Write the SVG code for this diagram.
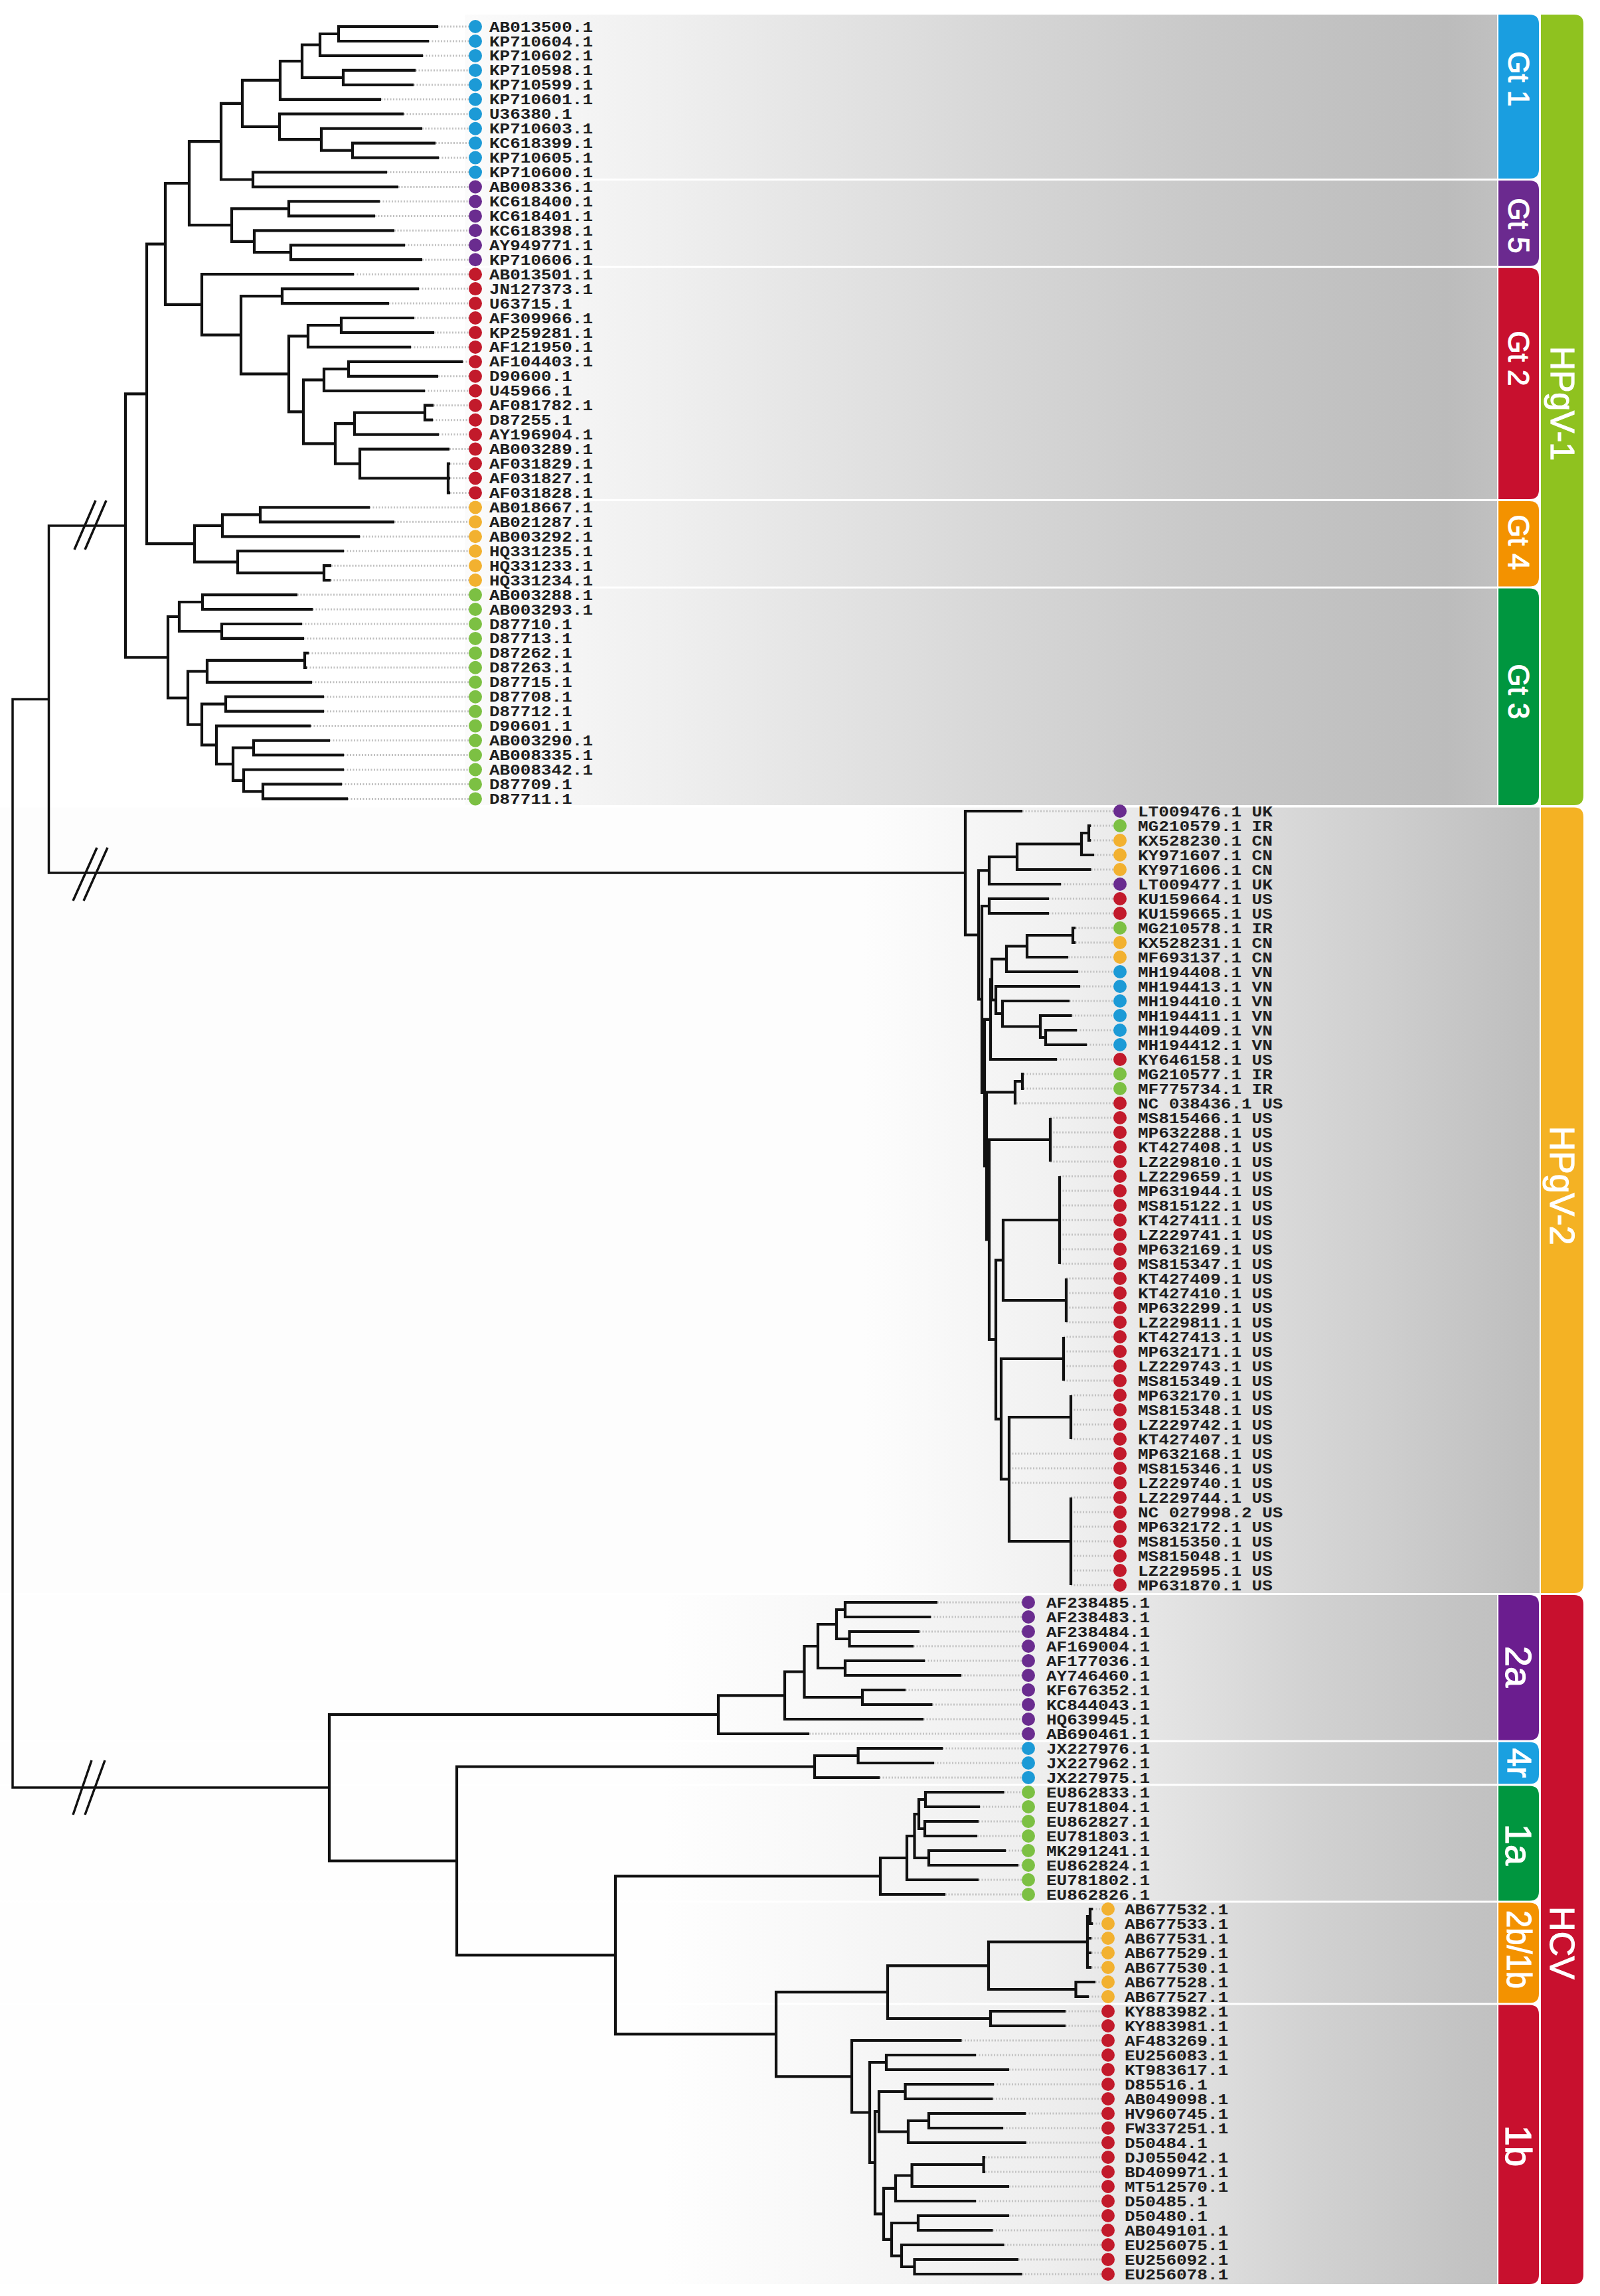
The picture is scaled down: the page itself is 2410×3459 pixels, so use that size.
<svg xmlns="http://www.w3.org/2000/svg" width="2410" height="3459" viewBox="0 0 2410 3459">
<style>
.br{fill:none;stroke:#111;stroke-width:4.2;stroke-linejoin:miter}
.bk{fill:none;stroke:#111;stroke-width:3.5}
.dt{fill:none;stroke:#c2c2c2;stroke-width:3;stroke-dasharray:2 2.5}
.lb{font-family:"Liberation Mono","DejaVu Sans Mono",monospace;font-size:22px;font-weight:bold;fill:#1e1e1e}
.bt{font-family:"Liberation Sans",Arial,sans-serif;fill:#ffffff;stroke:#ffffff;stroke-width:1.2;text-anchor:middle;dominant-baseline:central}
.cb{fill:#1c9ad6}.cp{fill:#6a2c8f}.cr{fill:#c21a2b}.cy{fill:#f2b130}.cg{fill:#7cc043}
</style>
<defs>
<linearGradient id="g1" gradientUnits="userSpaceOnUse" x1="700" y1="0" x2="2256" y2="0">
<stop offset="0" stop-color="#fbfbfb"/><stop offset="0.2" stop-color="#efefef"/><stop offset="0.5" stop-color="#d8d8d8"/><stop offset="0.72" stop-color="#c8c8c8"/><stop offset="0.95" stop-color="#bcbcbc"/><stop offset="1" stop-color="#c0c0c0"/>
</linearGradient>
<linearGradient id="g2" gradientUnits="userSpaceOnUse" x1="1300" y1="0" x2="2319" y2="0">
<stop offset="0" stop-color="#fdfdfd"/><stop offset="0.3" stop-color="#f0f0f0"/><stop offset="0.42" stop-color="#e8e8e8"/><stop offset="0.63" stop-color="#d8d8d8"/><stop offset="0.8" stop-color="#cccccc"/><stop offset="1" stop-color="#bdbdbd"/>
</linearGradient>
<linearGradient id="g3" gradientUnits="userSpaceOnUse" x1="1000" y1="0" x2="2256" y2="0">
<stop offset="0" stop-color="#fefefe"/><stop offset="0.16" stop-color="#f9f9f9"/><stop offset="0.46" stop-color="#eeeeee"/><stop offset="0.59" stop-color="#e5e5e5"/><stop offset="0.77" stop-color="#d2d2d2"/><stop offset="0.96" stop-color="#c3c3c3"/><stop offset="1" stop-color="#c1c1c1"/>
</linearGradient>
</defs>
<rect width="2410" height="3459" fill="#ffffff"/>
<g id="bands">
<rect x="700" y="22" width="1555" height="247" fill="url(#g1)"/>
<rect x="700" y="272" width="1555" height="128.7" fill="url(#g1)"/>
<rect x="700" y="403.7" width="1555" height="348.2" fill="url(#g1)"/>
<rect x="700" y="754.9" width="1555" height="128.7" fill="url(#g1)"/>
<rect x="700" y="886.6" width="1555" height="326.4" fill="url(#g1)"/>
<rect x="0" y="1216.5" width="2319" height="1183.5" fill="url(#g2)"/>
<rect x="0" y="2403" width="2255" height="218.5" fill="url(#g3)"/>
<rect x="0" y="2624.5" width="2255" height="63" fill="url(#g3)"/>
<rect x="0" y="2690.5" width="2255" height="173" fill="url(#g3)"/>
<rect x="0" y="2866.5" width="2255" height="151" fill="url(#g3)"/>
<rect x="0" y="3020.5" width="2255" height="420.5" fill="url(#g3)"/>
</g>
<g id="clade-bars">
<g id="bar-gt1"><path fill="#1a9ee0" d="M2257 22H2304Q2318 22 2318 36V255Q2318 269 2304 269H2257Z"/><text class="bt" font-size="44" transform="translate(2287.5 119) rotate(90)">Gt 1</text></g>
<g id="bar-gt5"><path fill="#6b2a8f" d="M2257 272H2304Q2318 272 2318 286V386.7Q2318 400.7 2304 400.7H2257Z"/><text class="bt" font-size="44" transform="translate(2287.5 340) rotate(90)">Gt 5</text></g>
<g id="bar-gt2"><path fill="#c8102e" d="M2257 403.7H2304Q2318 403.7 2318 417.7V737.9Q2318 751.9 2304 751.9H2257Z"/><text class="bt" font-size="44" transform="translate(2287.5 540) rotate(90)">Gt 2</text></g>
<g id="bar-gt4"><path fill="#f39200" d="M2257 754.9H2304Q2318 754.9 2318 768.9V869.6Q2318 883.6 2304 883.6H2257Z"/><text class="bt" font-size="44" transform="translate(2287.5 817) rotate(90)">Gt 4</text></g>
<g id="bar-gt3"><path fill="#00963f" d="M2257 886.6H2304Q2318 886.6 2318 900.6V1199Q2318 1213 2304 1213H2257Z"/><text class="bt" font-size="44" transform="translate(2287.5 1042) rotate(90)">Gt 3</text></g>
<g id="bar-hpgv1"><path fill="#8fc21f" d="M2321 22H2371Q2385 22 2385 36V1199Q2385 1213 2371 1213H2321Z"/><text class="bt" font-size="50" transform="translate(2353 608) rotate(90)">HPgV-1</text></g>
<g id="bar-hpgv2"><path fill="#f4b224" d="M2321 1216.5H2371Q2385 1216.5 2385 1230.5V2386Q2385 2400 2371 2400H2321Z"/><text class="bt" font-size="52" transform="translate(2353 1786) rotate(90)">HPgV-2</text></g>
<g id="bar-hcv"><path fill="#c8102e" d="M2321 2403H2371Q2385 2403 2385 2417V3427Q2385 3441 2371 3441H2321Z"/><text class="bt" font-size="52" transform="translate(2353 2927) rotate(90)">HCV</text></g>
<g id="bar-2a"><path fill="#6b1d8f" d="M2257 2403H2304Q2318 2403 2318 2417V2607.5Q2318 2621.5 2304 2621.5H2257Z"/><text class="bt" font-size="56" transform="translate(2287.5 2511) rotate(90)">2a</text></g>
<g id="bar-4r"><path fill="#1aa0e0" d="M2257 2624.5H2304Q2318 2624.5 2318 2638.5V2673.5Q2318 2687.5 2304 2687.5H2257Z"/><text class="bt" font-size="50" transform="translate(2287.5 2656) rotate(90)">4r</text></g>
<g id="bar-1a"><path fill="#00963f" d="M2257 2690.5H2304Q2318 2690.5 2318 2704.5V2849.5Q2318 2863.5 2304 2863.5H2257Z"/><text class="bt" font-size="56" transform="translate(2287.5 2779) rotate(90)">1a</text></g>
<g id="bar-2b1b"><path fill="#f39200" d="M2257 2866.5H2304Q2318 2866.5 2318 2880.5V3003.5Q2318 3017.5 2304 3017.5H2257Z"/><text class="bt" font-size="52" textLength="118" lengthAdjust="spacingAndGlyphs" transform="translate(2287.5 2937) rotate(90)">2b/1b</text></g>
<g id="bar-1b"><path fill="#c8102e" d="M2257 3020.5H2304Q2318 3020.5 2318 3034.5V3427Q2318 3441 2304 3441H2257Z"/><text class="bt" font-size="56" transform="translate(2287.5 3233) rotate(90)">1b</text></g>
</g>
<g id="connectors">
<path class="dt" d="M660 40H706M646 62H706M637 83.9H706M626 105.9H706M623 127.8H706M574 149.8H706M608 171.7H706M636 193.7H706M656 215.6H706M661 237.6H706M583 259.5H706M600 281.5H706M572 303.4H706M565 325.4H706M594 347.3H706M610 369.3H706M636 391.2H706M533 413.2H706M631 435.1H706M586 457.1H706M624 479H706M654 501H706M619 522.9H706M697 544.9H706M660 566.8H706M640 588.8H706M653 610.7H706M652 632.7H706M661 654.6H706M677 676.6H706M678 698.5H706M678 720.5H706M678 742.4H706M557 764.4H706M594 786.3H706M542 808.3H706M518 830.2H706M499 852.2H706M498 874.1H706M448 896.1H706M471 918H706M455 940H706M458 961.9H706M465 983.9H706M462 1005.8H706M470 1027.8H706M488 1049.7H706M488 1071.7H706M468 1093.6H706M497 1115.6H706M518 1137.5H706M518 1159.5H706M515 1181.4H706M524 1203.4H706"/>
<path class="dt" d="M1540 1222H1677M1643 1244H1677M1643 1266H1677M1648 1288H1677M1643.5 1310H1677M1598 1332H1677M1580 1354H1677M1580 1376H1677M1620 1398H1677M1620 1420H1677M1609 1442H1677M1624 1464H1677M1627 1486H1677M1611 1508H1677M1614.6 1530H1677M1622 1552H1677M1637 1574H1677M1592 1596H1677M1542 1618H1677M1542 1640H1677M1531 1662H1677M1582 1684H1677M1582 1706H1677M1582 1728H1677M1582 1750H1677M1596 1772H1677M1596 1794H1677M1596 1816H1677M1596 1838H1677M1596 1860H1677M1596 1882H1677M1596 1904H1677M1606 1926H1677M1606 1948H1677M1606 1970H1677M1606 1992H1677M1602 2014H1677M1602 2036H1677M1602 2058H1677M1602 2080H1677M1613 2102H1677M1613 2124H1677M1613 2146H1677M1613 2168H1677M1520 2190H1677M1520 2212H1677M1520 2234H1677M1613 2256H1677M1613 2278H1677M1613 2300H1677M1613 2322H1677M1613 2344H1677M1613 2366H1677M1613 2388H1677"/>
<path class="dt" d="M1412 2414H1539M1402 2436H1539M1385 2458H1539M1376 2480H1539M1393 2502H1539M1448 2524H1539M1364 2546H1539M1404.5 2568H1539M1391 2590H1539M1219 2612H1539M1420 2634H1539M1407 2656H1539M1325 2678H1539M1512.5 2700H1539M1476 2722H1539M1474 2744H1539M1472 2766H1539M1515 2788H1539M1534 2810H1539M1474 2832H1539M1424 2854H1539M1646 2876H1659M1646 2898H1659M1644 2920H1659M1644 2942H1659M1644 2964H1659M1650 2986H1659M1640 3008H1659M1605 3030H1659M1605 3052H1659M1448.5 3074H1659M1470 3096H1659M1520 3118H1659M1497 3140H1659M1495.5 3162H1659M1545 3184H1659M1511 3206H1659M1545.7 3228H1659M1484 3250H1659M1484 3272H1659M1520 3294H1659M1470 3316H1659M1520 3338H1659M1495.5 3360H1659M1512.5 3382H1659M1534 3404H1659M1539.5 3426H1659"/>
<path class="br" d="M660 40H510V62H646M510 51H482V83.9H637M626 105.9H517V127.8H623M482 67.5H455V116.8H517M455 92.1H422V149.8H574M656 215.6H531V237.6H661M636 193.7H484V226.6H531M608 171.7H421V210.1H484M422 120.9H365V190.9H421M583 259.5H381V281.5H600M365 155.9H333V270.5H381M572 303.4H435V325.4H565M610 369.3H438V391.2H636M594 347.3H383V380.2H438M435 314.4H349V363.8H383M333 213.2H285V339.1H349M631 435.1H425V457.1H586M624 479H514V501H654M514 490H464V522.9H619M697 544.9H525V566.8H660M525 555.8H488V588.8H640M653 610.7H640V632.7H652M640 621.7H534V654.6H661M678 698.5H675V742.4H678M675 720.5H678M677 676.6H542V720.5H675M534 638.1H505V698.6H542M488 572.3H457V668.3H505M464 506.4H435V620.3H457M425 446.1H363V563.4H435M533 413.2H304V504.7H363M285 276.2H249V458.9H304M557 764.4H392V786.3H594M392 775.3H335V808.3H542M499 852.2H488V874.1H498M518 830.2H358V863.1H488M335 791.8H293V846.7H358M249 367.6H221V819.2H293M448 896.1H305V918H471M455 940H334V961.9H458M305 907H270V951H334M465 983.9H459V1005.8H462M459 994.8H312V1027.8H470M488 1049.7H340V1071.7H488M497 1115.6H382V1137.5H518M515 1181.4H396V1203.4H524M518 1159.5H367V1192.4H396M382 1126.5H351V1175.9H367M468 1093.6H326V1151.2H351M340 1060.7H304V1122.4H326M312 1011.3H283V1091.6H304M270 929H253V1051.5H283M221 593.4H189V990.3H253"/>
<path class="br" d="M1540 1222H1454V1408.5H1474M1490 1311.4H1474V1505.5H1479M1532 1290.8H1490V1332H1598M1629 1271.5H1532V1310H1643.5M1640 1255H1629V1288H1648M1643 1244H1640V1266H1643M1490 1365H1479V1646H1483M1580 1354H1490V1376H1580M1492 1535.8H1483V1756.5H1486M1494 1475.6H1492V1596H1592M1516 1444.8H1494V1506.5H1500M1547 1425.5H1516V1464H1624M1616 1409H1547V1442H1609M1620 1398H1616V1420H1620M1627 1486H1500V1527H1510M1611 1508H1510V1546.5H1567M1614.6 1530H1567V1563H1575M1622 1552H1575V1574H1637M1529 1645.5H1486V1867.5H1490M1540 1629H1529V1662H1531M1542 1618H1540V1640H1542M1582 1717H1490V2018H1500M1582 1684V1750M1511 1898.5H1500V2137.8H1508M1596 1838H1511V1959H1606M1596 1772V1904M1606 1926V1992M1602 2047H1508V2228.5H1520M1602 2014V2080M1613 2135H1520V2322H1613M1613 2102V2168M1613 2256V2388"/>
<path class="br" d="M1412 2414H1273V2436H1402M1385 2458H1279.5V2480H1376M1273 2425H1260V2469H1279.5M1393 2502H1273V2524H1448M1260 2447H1232V2513H1273M1364 2546H1299V2568H1404.5M1232 2480H1211.5V2557H1299M1211.5 2518.5H1182V2590H1391M1182 2554.3H1082V2612H1219M1082 2583H496V2803.5H688M1420 2634H1292.6V2656H1407M1292.6 2645H1227V2678H1325M1227 2661.5H688V2945.5H927M1512.5 2700H1394V2722H1476M1474 2744H1393V2766H1472M1394 2711H1384V2755H1393M1515 2788H1399V2810H1534M1384 2733H1377.5V2799H1399M1377.5 2766H1366V2832H1474M1366 2799H1326V2854H1424M1326 2826.5H927V3064.5H1169M1646 2876H1642V2898H1646M1642 2887H1638V2964H1644M1638 2920H1644M1638 2942H1644M1650 2986H1620.5V3008H1640M1638 2925.5H1489V2997H1620.5M1605 3030H1492V3052H1605M1489 2961.3H1337V3041H1492M1337 3001.2H1169V3128.3H1283M1448.5 3074H1283V3182.5H1310M1335 3107H1310V3258H1318M1470 3096H1335V3118H1520M1324 3181H1318V3335.3H1331M1363.6 3151H1324V3211.5H1368M1497 3140H1363.6V3162H1495.5M1399 3195H1368V3228H1545.7M1545 3184H1399V3206H1511M1349 3296.8H1331V3373.8H1343M1373.6 3277.5H1349V3316H1470M1481.6 3261H1373.6V3294H1520M1484 3250H1481.6V3272H1484M1383 3349H1343V3398.5H1358M1520 3338H1383V3360H1495.5M1512.5 3382H1358V3415H1377.5M1534 3404H1377.5V3426H1539.5"/>
<path class="bk" d="M189 791.9H73.5V1315H1454M73.5 1053.5H19V2693H496"/>
<path class="bk" d="M112 828L144 754M128 828L160 754M110 1357L146 1277M126 1357L162 1277M110 2734L138 2652M128 2734L158 2652"/>
</g>
<g id="leaves-hpgv1">
<g id="l-AB013500"><circle class="cb" cx="716" cy="40" r="10"/><text class="lb" x="737" y="47.5" textLength="156" lengthAdjust="spacingAndGlyphs">AB013500.1</text></g>
<g id="l-KP710604"><circle class="cb" cx="716" cy="62" r="10"/><text class="lb" x="737" y="69.5" textLength="156" lengthAdjust="spacingAndGlyphs">KP710604.1</text></g>
<g id="l-KP710602"><circle class="cb" cx="716" cy="83.9" r="10"/><text class="lb" x="737" y="91.4" textLength="156" lengthAdjust="spacingAndGlyphs">KP710602.1</text></g>
<g id="l-KP710598"><circle class="cb" cx="716" cy="105.9" r="10"/><text class="lb" x="737" y="113.4" textLength="156" lengthAdjust="spacingAndGlyphs">KP710598.1</text></g>
<g id="l-KP710599"><circle class="cb" cx="716" cy="127.8" r="10"/><text class="lb" x="737" y="135.3" textLength="156" lengthAdjust="spacingAndGlyphs">KP710599.1</text></g>
<g id="l-KP710601"><circle class="cb" cx="716" cy="149.8" r="10"/><text class="lb" x="737" y="157.3" textLength="156" lengthAdjust="spacingAndGlyphs">KP710601.1</text></g>
<g id="l-U36380"><circle class="cb" cx="716" cy="171.7" r="10"/><text class="lb" x="737" y="179.2" textLength="124.8" lengthAdjust="spacingAndGlyphs">U36380.1</text></g>
<g id="l-KP710603"><circle class="cb" cx="716" cy="193.7" r="10"/><text class="lb" x="737" y="201.2" textLength="156" lengthAdjust="spacingAndGlyphs">KP710603.1</text></g>
<g id="l-KC618399"><circle class="cb" cx="716" cy="215.6" r="10"/><text class="lb" x="737" y="223.1" textLength="156" lengthAdjust="spacingAndGlyphs">KC618399.1</text></g>
<g id="l-KP710605"><circle class="cb" cx="716" cy="237.6" r="10"/><text class="lb" x="737" y="245.1" textLength="156" lengthAdjust="spacingAndGlyphs">KP710605.1</text></g>
<g id="l-KP710600"><circle class="cb" cx="716" cy="259.5" r="10"/><text class="lb" x="737" y="267" textLength="156" lengthAdjust="spacingAndGlyphs">KP710600.1</text></g>
<g id="l-AB008336"><circle class="cp" cx="716" cy="281.5" r="10"/><text class="lb" x="737" y="289" textLength="156" lengthAdjust="spacingAndGlyphs">AB008336.1</text></g>
<g id="l-KC618400"><circle class="cp" cx="716" cy="303.4" r="10"/><text class="lb" x="737" y="310.9" textLength="156" lengthAdjust="spacingAndGlyphs">KC618400.1</text></g>
<g id="l-KC618401"><circle class="cp" cx="716" cy="325.4" r="10"/><text class="lb" x="737" y="332.9" textLength="156" lengthAdjust="spacingAndGlyphs">KC618401.1</text></g>
<g id="l-KC618398"><circle class="cp" cx="716" cy="347.3" r="10"/><text class="lb" x="737" y="354.8" textLength="156" lengthAdjust="spacingAndGlyphs">KC618398.1</text></g>
<g id="l-AY949771"><circle class="cp" cx="716" cy="369.3" r="10"/><text class="lb" x="737" y="376.8" textLength="156" lengthAdjust="spacingAndGlyphs">AY949771.1</text></g>
<g id="l-KP710606"><circle class="cp" cx="716" cy="391.2" r="10"/><text class="lb" x="737" y="398.7" textLength="156" lengthAdjust="spacingAndGlyphs">KP710606.1</text></g>
<g id="l-AB013501"><circle class="cr" cx="716" cy="413.2" r="10"/><text class="lb" x="737" y="420.7" textLength="156" lengthAdjust="spacingAndGlyphs">AB013501.1</text></g>
<g id="l-JN127373"><circle class="cr" cx="716" cy="435.1" r="10"/><text class="lb" x="737" y="442.6" textLength="156" lengthAdjust="spacingAndGlyphs">JN127373.1</text></g>
<g id="l-U63715"><circle class="cr" cx="716" cy="457.1" r="10"/><text class="lb" x="737" y="464.6" textLength="124.8" lengthAdjust="spacingAndGlyphs">U63715.1</text></g>
<g id="l-AF309966"><circle class="cr" cx="716" cy="479" r="10"/><text class="lb" x="737" y="486.5" textLength="156" lengthAdjust="spacingAndGlyphs">AF309966.1</text></g>
<g id="l-KP259281"><circle class="cr" cx="716" cy="501" r="10"/><text class="lb" x="737" y="508.5" textLength="156" lengthAdjust="spacingAndGlyphs">KP259281.1</text></g>
<g id="l-AF121950"><circle class="cr" cx="716" cy="522.9" r="10"/><text class="lb" x="737" y="530.4" textLength="156" lengthAdjust="spacingAndGlyphs">AF121950.1</text></g>
<g id="l-AF104403"><circle class="cr" cx="716" cy="544.9" r="10"/><text class="lb" x="737" y="552.4" textLength="156" lengthAdjust="spacingAndGlyphs">AF104403.1</text></g>
<g id="l-D90600"><circle class="cr" cx="716" cy="566.8" r="10"/><text class="lb" x="737" y="574.3" textLength="124.8" lengthAdjust="spacingAndGlyphs">D90600.1</text></g>
<g id="l-U45966"><circle class="cr" cx="716" cy="588.8" r="10"/><text class="lb" x="737" y="596.3" textLength="124.8" lengthAdjust="spacingAndGlyphs">U45966.1</text></g>
<g id="l-AF081782"><circle class="cr" cx="716" cy="610.7" r="10"/><text class="lb" x="737" y="618.2" textLength="156" lengthAdjust="spacingAndGlyphs">AF081782.1</text></g>
<g id="l-D87255"><circle class="cr" cx="716" cy="632.7" r="10"/><text class="lb" x="737" y="640.2" textLength="124.8" lengthAdjust="spacingAndGlyphs">D87255.1</text></g>
<g id="l-AY196904"><circle class="cr" cx="716" cy="654.6" r="10"/><text class="lb" x="737" y="662.1" textLength="156" lengthAdjust="spacingAndGlyphs">AY196904.1</text></g>
<g id="l-AB003289"><circle class="cr" cx="716" cy="676.6" r="10"/><text class="lb" x="737" y="684.1" textLength="156" lengthAdjust="spacingAndGlyphs">AB003289.1</text></g>
<g id="l-AF031829"><circle class="cr" cx="716" cy="698.5" r="10"/><text class="lb" x="737" y="706" textLength="156" lengthAdjust="spacingAndGlyphs">AF031829.1</text></g>
<g id="l-AF031827"><circle class="cr" cx="716" cy="720.5" r="10"/><text class="lb" x="737" y="728" textLength="156" lengthAdjust="spacingAndGlyphs">AF031827.1</text></g>
<g id="l-AF031828"><circle class="cr" cx="716" cy="742.4" r="10"/><text class="lb" x="737" y="749.9" textLength="156" lengthAdjust="spacingAndGlyphs">AF031828.1</text></g>
<g id="l-AB018667"><circle class="cy" cx="716" cy="764.4" r="10"/><text class="lb" x="737" y="771.9" textLength="156" lengthAdjust="spacingAndGlyphs">AB018667.1</text></g>
<g id="l-AB021287"><circle class="cy" cx="716" cy="786.3" r="10"/><text class="lb" x="737" y="793.8" textLength="156" lengthAdjust="spacingAndGlyphs">AB021287.1</text></g>
<g id="l-AB003292"><circle class="cy" cx="716" cy="808.3" r="10"/><text class="lb" x="737" y="815.8" textLength="156" lengthAdjust="spacingAndGlyphs">AB003292.1</text></g>
<g id="l-HQ331235"><circle class="cy" cx="716" cy="830.2" r="10"/><text class="lb" x="737" y="837.7" textLength="156" lengthAdjust="spacingAndGlyphs">HQ331235.1</text></g>
<g id="l-HQ331233"><circle class="cy" cx="716" cy="852.2" r="10"/><text class="lb" x="737" y="859.7" textLength="156" lengthAdjust="spacingAndGlyphs">HQ331233.1</text></g>
<g id="l-HQ331234"><circle class="cy" cx="716" cy="874.1" r="10"/><text class="lb" x="737" y="881.6" textLength="156" lengthAdjust="spacingAndGlyphs">HQ331234.1</text></g>
<g id="l-AB003288"><circle class="cg" cx="716" cy="896.1" r="10"/><text class="lb" x="737" y="903.6" textLength="156" lengthAdjust="spacingAndGlyphs">AB003288.1</text></g>
<g id="l-AB003293"><circle class="cg" cx="716" cy="918" r="10"/><text class="lb" x="737" y="925.5" textLength="156" lengthAdjust="spacingAndGlyphs">AB003293.1</text></g>
<g id="l-D87710"><circle class="cg" cx="716" cy="940" r="10"/><text class="lb" x="737" y="947.5" textLength="124.8" lengthAdjust="spacingAndGlyphs">D87710.1</text></g>
<g id="l-D87713"><circle class="cg" cx="716" cy="961.9" r="10"/><text class="lb" x="737" y="969.4" textLength="124.8" lengthAdjust="spacingAndGlyphs">D87713.1</text></g>
<g id="l-D87262"><circle class="cg" cx="716" cy="983.9" r="10"/><text class="lb" x="737" y="991.4" textLength="124.8" lengthAdjust="spacingAndGlyphs">D87262.1</text></g>
<g id="l-D87263"><circle class="cg" cx="716" cy="1005.8" r="10"/><text class="lb" x="737" y="1013.3" textLength="124.8" lengthAdjust="spacingAndGlyphs">D87263.1</text></g>
<g id="l-D87715"><circle class="cg" cx="716" cy="1027.8" r="10"/><text class="lb" x="737" y="1035.3" textLength="124.8" lengthAdjust="spacingAndGlyphs">D87715.1</text></g>
<g id="l-D87708"><circle class="cg" cx="716" cy="1049.7" r="10"/><text class="lb" x="737" y="1057.2" textLength="124.8" lengthAdjust="spacingAndGlyphs">D87708.1</text></g>
<g id="l-D87712"><circle class="cg" cx="716" cy="1071.7" r="10"/><text class="lb" x="737" y="1079.2" textLength="124.8" lengthAdjust="spacingAndGlyphs">D87712.1</text></g>
<g id="l-D90601"><circle class="cg" cx="716" cy="1093.6" r="10"/><text class="lb" x="737" y="1101.1" textLength="124.8" lengthAdjust="spacingAndGlyphs">D90601.1</text></g>
<g id="l-AB003290"><circle class="cg" cx="716" cy="1115.6" r="10"/><text class="lb" x="737" y="1123.1" textLength="156" lengthAdjust="spacingAndGlyphs">AB003290.1</text></g>
<g id="l-AB008335"><circle class="cg" cx="716" cy="1137.5" r="10"/><text class="lb" x="737" y="1145" textLength="156" lengthAdjust="spacingAndGlyphs">AB008335.1</text></g>
<g id="l-AB008342"><circle class="cg" cx="716" cy="1159.5" r="10"/><text class="lb" x="737" y="1167" textLength="156" lengthAdjust="spacingAndGlyphs">AB008342.1</text></g>
<g id="l-D87709"><circle class="cg" cx="716" cy="1181.4" r="10"/><text class="lb" x="737" y="1188.9" textLength="124.8" lengthAdjust="spacingAndGlyphs">D87709.1</text></g>
<g id="l-D87711"><circle class="cg" cx="716" cy="1203.4" r="10"/><text class="lb" x="737" y="1210.9" textLength="124.8" lengthAdjust="spacingAndGlyphs">D87711.1</text></g>
</g>
<g id="leaves-hpgv2">
<g id="l-LT009476"><circle class="cp" cx="1687" cy="1222" r="10"/><text class="lb" x="1714" y="1229.5" textLength="202.8" lengthAdjust="spacingAndGlyphs">LT009476.1 UK</text></g>
<g id="l-MG210579"><circle class="cg" cx="1687" cy="1244" r="10"/><text class="lb" x="1714" y="1251.5" textLength="202.8" lengthAdjust="spacingAndGlyphs">MG210579.1 IR</text></g>
<g id="l-KX528230"><circle class="cy" cx="1687" cy="1266" r="10"/><text class="lb" x="1714" y="1273.5" textLength="202.8" lengthAdjust="spacingAndGlyphs">KX528230.1 CN</text></g>
<g id="l-KY971607"><circle class="cy" cx="1687" cy="1288" r="10"/><text class="lb" x="1714" y="1295.5" textLength="202.8" lengthAdjust="spacingAndGlyphs">KY971607.1 CN</text></g>
<g id="l-KY971606"><circle class="cy" cx="1687" cy="1310" r="10"/><text class="lb" x="1714" y="1317.5" textLength="202.8" lengthAdjust="spacingAndGlyphs">KY971606.1 CN</text></g>
<g id="l-LT009477"><circle class="cp" cx="1687" cy="1332" r="10"/><text class="lb" x="1714" y="1339.5" textLength="202.8" lengthAdjust="spacingAndGlyphs">LT009477.1 UK</text></g>
<g id="l-KU159664"><circle class="cr" cx="1687" cy="1354" r="10"/><text class="lb" x="1714" y="1361.5" textLength="202.8" lengthAdjust="spacingAndGlyphs">KU159664.1 US</text></g>
<g id="l-KU159665"><circle class="cr" cx="1687" cy="1376" r="10"/><text class="lb" x="1714" y="1383.5" textLength="202.8" lengthAdjust="spacingAndGlyphs">KU159665.1 US</text></g>
<g id="l-MG210578"><circle class="cg" cx="1687" cy="1398" r="10"/><text class="lb" x="1714" y="1405.5" textLength="202.8" lengthAdjust="spacingAndGlyphs">MG210578.1 IR</text></g>
<g id="l-KX528231"><circle class="cy" cx="1687" cy="1420" r="10"/><text class="lb" x="1714" y="1427.5" textLength="202.8" lengthAdjust="spacingAndGlyphs">KX528231.1 CN</text></g>
<g id="l-MF693137"><circle class="cy" cx="1687" cy="1442" r="10"/><text class="lb" x="1714" y="1449.5" textLength="202.8" lengthAdjust="spacingAndGlyphs">MF693137.1 CN</text></g>
<g id="l-MH194408"><circle class="cb" cx="1687" cy="1464" r="10"/><text class="lb" x="1714" y="1471.5" textLength="202.8" lengthAdjust="spacingAndGlyphs">MH194408.1 VN</text></g>
<g id="l-MH194413"><circle class="cb" cx="1687" cy="1486" r="10"/><text class="lb" x="1714" y="1493.5" textLength="202.8" lengthAdjust="spacingAndGlyphs">MH194413.1 VN</text></g>
<g id="l-MH194410"><circle class="cb" cx="1687" cy="1508" r="10"/><text class="lb" x="1714" y="1515.5" textLength="202.8" lengthAdjust="spacingAndGlyphs">MH194410.1 VN</text></g>
<g id="l-MH194411"><circle class="cb" cx="1687" cy="1530" r="10"/><text class="lb" x="1714" y="1537.5" textLength="202.8" lengthAdjust="spacingAndGlyphs">MH194411.1 VN</text></g>
<g id="l-MH194409"><circle class="cb" cx="1687" cy="1552" r="10"/><text class="lb" x="1714" y="1559.5" textLength="202.8" lengthAdjust="spacingAndGlyphs">MH194409.1 VN</text></g>
<g id="l-MH194412"><circle class="cb" cx="1687" cy="1574" r="10"/><text class="lb" x="1714" y="1581.5" textLength="202.8" lengthAdjust="spacingAndGlyphs">MH194412.1 VN</text></g>
<g id="l-KY646158"><circle class="cr" cx="1687" cy="1596" r="10"/><text class="lb" x="1714" y="1603.5" textLength="202.8" lengthAdjust="spacingAndGlyphs">KY646158.1 US</text></g>
<g id="l-MG210577"><circle class="cg" cx="1687" cy="1618" r="10"/><text class="lb" x="1714" y="1625.5" textLength="202.8" lengthAdjust="spacingAndGlyphs">MG210577.1 IR</text></g>
<g id="l-MF775734"><circle class="cg" cx="1687" cy="1640" r="10"/><text class="lb" x="1714" y="1647.5" textLength="202.8" lengthAdjust="spacingAndGlyphs">MF775734.1 IR</text></g>
<g id="l-NC038436"><circle class="cr" cx="1687" cy="1662" r="10"/><text class="lb" x="1714" y="1669.5" textLength="218.4" lengthAdjust="spacingAndGlyphs">NC 038436.1 US</text></g>
<g id="l-MS815466"><circle class="cr" cx="1687" cy="1684" r="10"/><text class="lb" x="1714" y="1691.5" textLength="202.8" lengthAdjust="spacingAndGlyphs">MS815466.1 US</text></g>
<g id="l-MP632288"><circle class="cr" cx="1687" cy="1706" r="10"/><text class="lb" x="1714" y="1713.5" textLength="202.8" lengthAdjust="spacingAndGlyphs">MP632288.1 US</text></g>
<g id="l-KT427408"><circle class="cr" cx="1687" cy="1728" r="10"/><text class="lb" x="1714" y="1735.5" textLength="202.8" lengthAdjust="spacingAndGlyphs">KT427408.1 US</text></g>
<g id="l-LZ229810"><circle class="cr" cx="1687" cy="1750" r="10"/><text class="lb" x="1714" y="1757.5" textLength="202.8" lengthAdjust="spacingAndGlyphs">LZ229810.1 US</text></g>
<g id="l-LZ229659"><circle class="cr" cx="1687" cy="1772" r="10"/><text class="lb" x="1714" y="1779.5" textLength="202.8" lengthAdjust="spacingAndGlyphs">LZ229659.1 US</text></g>
<g id="l-MP631944"><circle class="cr" cx="1687" cy="1794" r="10"/><text class="lb" x="1714" y="1801.5" textLength="202.8" lengthAdjust="spacingAndGlyphs">MP631944.1 US</text></g>
<g id="l-MS815122"><circle class="cr" cx="1687" cy="1816" r="10"/><text class="lb" x="1714" y="1823.5" textLength="202.8" lengthAdjust="spacingAndGlyphs">MS815122.1 US</text></g>
<g id="l-KT427411"><circle class="cr" cx="1687" cy="1838" r="10"/><text class="lb" x="1714" y="1845.5" textLength="202.8" lengthAdjust="spacingAndGlyphs">KT427411.1 US</text></g>
<g id="l-LZ229741"><circle class="cr" cx="1687" cy="1860" r="10"/><text class="lb" x="1714" y="1867.5" textLength="202.8" lengthAdjust="spacingAndGlyphs">LZ229741.1 US</text></g>
<g id="l-MP632169"><circle class="cr" cx="1687" cy="1882" r="10"/><text class="lb" x="1714" y="1889.5" textLength="202.8" lengthAdjust="spacingAndGlyphs">MP632169.1 US</text></g>
<g id="l-MS815347"><circle class="cr" cx="1687" cy="1904" r="10"/><text class="lb" x="1714" y="1911.5" textLength="202.8" lengthAdjust="spacingAndGlyphs">MS815347.1 US</text></g>
<g id="l-KT427409"><circle class="cr" cx="1687" cy="1926" r="10"/><text class="lb" x="1714" y="1933.5" textLength="202.8" lengthAdjust="spacingAndGlyphs">KT427409.1 US</text></g>
<g id="l-KT427410"><circle class="cr" cx="1687" cy="1948" r="10"/><text class="lb" x="1714" y="1955.5" textLength="202.8" lengthAdjust="spacingAndGlyphs">KT427410.1 US</text></g>
<g id="l-MP632299"><circle class="cr" cx="1687" cy="1970" r="10"/><text class="lb" x="1714" y="1977.5" textLength="202.8" lengthAdjust="spacingAndGlyphs">MP632299.1 US</text></g>
<g id="l-LZ229811"><circle class="cr" cx="1687" cy="1992" r="10"/><text class="lb" x="1714" y="1999.5" textLength="202.8" lengthAdjust="spacingAndGlyphs">LZ229811.1 US</text></g>
<g id="l-KT427413"><circle class="cr" cx="1687" cy="2014" r="10"/><text class="lb" x="1714" y="2021.5" textLength="202.8" lengthAdjust="spacingAndGlyphs">KT427413.1 US</text></g>
<g id="l-MP632171"><circle class="cr" cx="1687" cy="2036" r="10"/><text class="lb" x="1714" y="2043.5" textLength="202.8" lengthAdjust="spacingAndGlyphs">MP632171.1 US</text></g>
<g id="l-LZ229743"><circle class="cr" cx="1687" cy="2058" r="10"/><text class="lb" x="1714" y="2065.5" textLength="202.8" lengthAdjust="spacingAndGlyphs">LZ229743.1 US</text></g>
<g id="l-MS815349"><circle class="cr" cx="1687" cy="2080" r="10"/><text class="lb" x="1714" y="2087.5" textLength="202.8" lengthAdjust="spacingAndGlyphs">MS815349.1 US</text></g>
<g id="l-MP632170"><circle class="cr" cx="1687" cy="2102" r="10"/><text class="lb" x="1714" y="2109.5" textLength="202.8" lengthAdjust="spacingAndGlyphs">MP632170.1 US</text></g>
<g id="l-MS815348"><circle class="cr" cx="1687" cy="2124" r="10"/><text class="lb" x="1714" y="2131.5" textLength="202.8" lengthAdjust="spacingAndGlyphs">MS815348.1 US</text></g>
<g id="l-LZ229742"><circle class="cr" cx="1687" cy="2146" r="10"/><text class="lb" x="1714" y="2153.5" textLength="202.8" lengthAdjust="spacingAndGlyphs">LZ229742.1 US</text></g>
<g id="l-KT427407"><circle class="cr" cx="1687" cy="2168" r="10"/><text class="lb" x="1714" y="2175.5" textLength="202.8" lengthAdjust="spacingAndGlyphs">KT427407.1 US</text></g>
<g id="l-MP632168"><circle class="cr" cx="1687" cy="2190" r="10"/><text class="lb" x="1714" y="2197.5" textLength="202.8" lengthAdjust="spacingAndGlyphs">MP632168.1 US</text></g>
<g id="l-MS815346"><circle class="cr" cx="1687" cy="2212" r="10"/><text class="lb" x="1714" y="2219.5" textLength="202.8" lengthAdjust="spacingAndGlyphs">MS815346.1 US</text></g>
<g id="l-LZ229740"><circle class="cr" cx="1687" cy="2234" r="10"/><text class="lb" x="1714" y="2241.5" textLength="202.8" lengthAdjust="spacingAndGlyphs">LZ229740.1 US</text></g>
<g id="l-LZ229744"><circle class="cr" cx="1687" cy="2256" r="10"/><text class="lb" x="1714" y="2263.5" textLength="202.8" lengthAdjust="spacingAndGlyphs">LZ229744.1 US</text></g>
<g id="l-NC027998"><circle class="cr" cx="1687" cy="2278" r="10"/><text class="lb" x="1714" y="2285.5" textLength="218.4" lengthAdjust="spacingAndGlyphs">NC 027998.2 US</text></g>
<g id="l-MP632172"><circle class="cr" cx="1687" cy="2300" r="10"/><text class="lb" x="1714" y="2307.5" textLength="202.8" lengthAdjust="spacingAndGlyphs">MP632172.1 US</text></g>
<g id="l-MS815350"><circle class="cr" cx="1687" cy="2322" r="10"/><text class="lb" x="1714" y="2329.5" textLength="202.8" lengthAdjust="spacingAndGlyphs">MS815350.1 US</text></g>
<g id="l-MS815048"><circle class="cr" cx="1687" cy="2344" r="10"/><text class="lb" x="1714" y="2351.5" textLength="202.8" lengthAdjust="spacingAndGlyphs">MS815048.1 US</text></g>
<g id="l-LZ229595"><circle class="cr" cx="1687" cy="2366" r="10"/><text class="lb" x="1714" y="2373.5" textLength="202.8" lengthAdjust="spacingAndGlyphs">LZ229595.1 US</text></g>
<g id="l-MP631870"><circle class="cr" cx="1687" cy="2388" r="10"/><text class="lb" x="1714" y="2395.5" textLength="202.8" lengthAdjust="spacingAndGlyphs">MP631870.1 US</text></g>
</g>
<g id="leaves-hcv">
<g id="l-AF238485"><circle class="cp" cx="1549" cy="2414" r="10"/><text class="lb" x="1576" y="2421.5" textLength="156" lengthAdjust="spacingAndGlyphs">AF238485.1</text></g>
<g id="l-AF238483"><circle class="cp" cx="1549" cy="2436" r="10"/><text class="lb" x="1576" y="2443.5" textLength="156" lengthAdjust="spacingAndGlyphs">AF238483.1</text></g>
<g id="l-AF238484"><circle class="cp" cx="1549" cy="2458" r="10"/><text class="lb" x="1576" y="2465.5" textLength="156" lengthAdjust="spacingAndGlyphs">AF238484.1</text></g>
<g id="l-AF169004"><circle class="cp" cx="1549" cy="2480" r="10"/><text class="lb" x="1576" y="2487.5" textLength="156" lengthAdjust="spacingAndGlyphs">AF169004.1</text></g>
<g id="l-AF177036"><circle class="cp" cx="1549" cy="2502" r="10"/><text class="lb" x="1576" y="2509.5" textLength="156" lengthAdjust="spacingAndGlyphs">AF177036.1</text></g>
<g id="l-AY746460"><circle class="cp" cx="1549" cy="2524" r="10"/><text class="lb" x="1576" y="2531.5" textLength="156" lengthAdjust="spacingAndGlyphs">AY746460.1</text></g>
<g id="l-KF676352"><circle class="cp" cx="1549" cy="2546" r="10"/><text class="lb" x="1576" y="2553.5" textLength="156" lengthAdjust="spacingAndGlyphs">KF676352.1</text></g>
<g id="l-KC844043"><circle class="cp" cx="1549" cy="2568" r="10"/><text class="lb" x="1576" y="2575.5" textLength="156" lengthAdjust="spacingAndGlyphs">KC844043.1</text></g>
<g id="l-HQ639945"><circle class="cp" cx="1549" cy="2590" r="10"/><text class="lb" x="1576" y="2597.5" textLength="156" lengthAdjust="spacingAndGlyphs">HQ639945.1</text></g>
<g id="l-AB690461"><circle class="cp" cx="1549" cy="2612" r="10"/><text class="lb" x="1576" y="2619.5" textLength="156" lengthAdjust="spacingAndGlyphs">AB690461.1</text></g>
<g id="l-JX227976"><circle class="cb" cx="1549" cy="2634" r="10"/><text class="lb" x="1576" y="2641.5" textLength="156" lengthAdjust="spacingAndGlyphs">JX227976.1</text></g>
<g id="l-JX227962"><circle class="cb" cx="1549" cy="2656" r="10"/><text class="lb" x="1576" y="2663.5" textLength="156" lengthAdjust="spacingAndGlyphs">JX227962.1</text></g>
<g id="l-JX227975"><circle class="cb" cx="1549" cy="2678" r="10"/><text class="lb" x="1576" y="2685.5" textLength="156" lengthAdjust="spacingAndGlyphs">JX227975.1</text></g>
<g id="l-EU862833"><circle class="cg" cx="1549" cy="2700" r="10"/><text class="lb" x="1576" y="2707.5" textLength="156" lengthAdjust="spacingAndGlyphs">EU862833.1</text></g>
<g id="l-EU781804"><circle class="cg" cx="1549" cy="2722" r="10"/><text class="lb" x="1576" y="2729.5" textLength="156" lengthAdjust="spacingAndGlyphs">EU781804.1</text></g>
<g id="l-EU862827"><circle class="cg" cx="1549" cy="2744" r="10"/><text class="lb" x="1576" y="2751.5" textLength="156" lengthAdjust="spacingAndGlyphs">EU862827.1</text></g>
<g id="l-EU781803"><circle class="cg" cx="1549" cy="2766" r="10"/><text class="lb" x="1576" y="2773.5" textLength="156" lengthAdjust="spacingAndGlyphs">EU781803.1</text></g>
<g id="l-MK291241"><circle class="cg" cx="1549" cy="2788" r="10"/><text class="lb" x="1576" y="2795.5" textLength="156" lengthAdjust="spacingAndGlyphs">MK291241.1</text></g>
<g id="l-EU862824"><circle class="cg" cx="1549" cy="2810" r="10"/><text class="lb" x="1576" y="2817.5" textLength="156" lengthAdjust="spacingAndGlyphs">EU862824.1</text></g>
<g id="l-EU781802"><circle class="cg" cx="1549" cy="2832" r="10"/><text class="lb" x="1576" y="2839.5" textLength="156" lengthAdjust="spacingAndGlyphs">EU781802.1</text></g>
<g id="l-EU862826"><circle class="cg" cx="1549" cy="2854" r="10"/><text class="lb" x="1576" y="2861.5" textLength="156" lengthAdjust="spacingAndGlyphs">EU862826.1</text></g>
<g id="l-AB677532"><circle class="cy" cx="1669" cy="2876" r="10"/><text class="lb" x="1694" y="2883.5" textLength="156" lengthAdjust="spacingAndGlyphs">AB677532.1</text></g>
<g id="l-AB677533"><circle class="cy" cx="1669" cy="2898" r="10"/><text class="lb" x="1694" y="2905.5" textLength="156" lengthAdjust="spacingAndGlyphs">AB677533.1</text></g>
<g id="l-AB677531"><circle class="cy" cx="1669" cy="2920" r="10"/><text class="lb" x="1694" y="2927.5" textLength="156" lengthAdjust="spacingAndGlyphs">AB677531.1</text></g>
<g id="l-AB677529"><circle class="cy" cx="1669" cy="2942" r="10"/><text class="lb" x="1694" y="2949.5" textLength="156" lengthAdjust="spacingAndGlyphs">AB677529.1</text></g>
<g id="l-AB677530"><circle class="cy" cx="1669" cy="2964" r="10"/><text class="lb" x="1694" y="2971.5" textLength="156" lengthAdjust="spacingAndGlyphs">AB677530.1</text></g>
<g id="l-AB677528"><circle class="cy" cx="1669" cy="2986" r="10"/><text class="lb" x="1694" y="2993.5" textLength="156" lengthAdjust="spacingAndGlyphs">AB677528.1</text></g>
<g id="l-AB677527"><circle class="cy" cx="1669" cy="3008" r="10"/><text class="lb" x="1694" y="3015.5" textLength="156" lengthAdjust="spacingAndGlyphs">AB677527.1</text></g>
<g id="l-KY883982"><circle class="cr" cx="1669" cy="3030" r="10"/><text class="lb" x="1694" y="3037.5" textLength="156" lengthAdjust="spacingAndGlyphs">KY883982.1</text></g>
<g id="l-KY883981"><circle class="cr" cx="1669" cy="3052" r="10"/><text class="lb" x="1694" y="3059.5" textLength="156" lengthAdjust="spacingAndGlyphs">KY883981.1</text></g>
<g id="l-AF483269"><circle class="cr" cx="1669" cy="3074" r="10"/><text class="lb" x="1694" y="3081.5" textLength="156" lengthAdjust="spacingAndGlyphs">AF483269.1</text></g>
<g id="l-EU256083"><circle class="cr" cx="1669" cy="3096" r="10"/><text class="lb" x="1694" y="3103.5" textLength="156" lengthAdjust="spacingAndGlyphs">EU256083.1</text></g>
<g id="l-KT983617"><circle class="cr" cx="1669" cy="3118" r="10"/><text class="lb" x="1694" y="3125.5" textLength="156" lengthAdjust="spacingAndGlyphs">KT983617.1</text></g>
<g id="l-D85516"><circle class="cr" cx="1669" cy="3140" r="10"/><text class="lb" x="1694" y="3147.5" textLength="124.8" lengthAdjust="spacingAndGlyphs">D85516.1</text></g>
<g id="l-AB049098"><circle class="cr" cx="1669" cy="3162" r="10"/><text class="lb" x="1694" y="3169.5" textLength="156" lengthAdjust="spacingAndGlyphs">AB049098.1</text></g>
<g id="l-HV960745"><circle class="cr" cx="1669" cy="3184" r="10"/><text class="lb" x="1694" y="3191.5" textLength="156" lengthAdjust="spacingAndGlyphs">HV960745.1</text></g>
<g id="l-FW337251"><circle class="cr" cx="1669" cy="3206" r="10"/><text class="lb" x="1694" y="3213.5" textLength="156" lengthAdjust="spacingAndGlyphs">FW337251.1</text></g>
<g id="l-D50484"><circle class="cr" cx="1669" cy="3228" r="10"/><text class="lb" x="1694" y="3235.5" textLength="124.8" lengthAdjust="spacingAndGlyphs">D50484.1</text></g>
<g id="l-DJ055042"><circle class="cr" cx="1669" cy="3250" r="10"/><text class="lb" x="1694" y="3257.5" textLength="156" lengthAdjust="spacingAndGlyphs">DJ055042.1</text></g>
<g id="l-BD409971"><circle class="cr" cx="1669" cy="3272" r="10"/><text class="lb" x="1694" y="3279.5" textLength="156" lengthAdjust="spacingAndGlyphs">BD409971.1</text></g>
<g id="l-MT512570"><circle class="cr" cx="1669" cy="3294" r="10"/><text class="lb" x="1694" y="3301.5" textLength="156" lengthAdjust="spacingAndGlyphs">MT512570.1</text></g>
<g id="l-D50485"><circle class="cr" cx="1669" cy="3316" r="10"/><text class="lb" x="1694" y="3323.5" textLength="124.8" lengthAdjust="spacingAndGlyphs">D50485.1</text></g>
<g id="l-D50480"><circle class="cr" cx="1669" cy="3338" r="10"/><text class="lb" x="1694" y="3345.5" textLength="124.8" lengthAdjust="spacingAndGlyphs">D50480.1</text></g>
<g id="l-AB049101"><circle class="cr" cx="1669" cy="3360" r="10"/><text class="lb" x="1694" y="3367.5" textLength="156" lengthAdjust="spacingAndGlyphs">AB049101.1</text></g>
<g id="l-EU256075"><circle class="cr" cx="1669" cy="3382" r="10"/><text class="lb" x="1694" y="3389.5" textLength="156" lengthAdjust="spacingAndGlyphs">EU256075.1</text></g>
<g id="l-EU256092"><circle class="cr" cx="1669" cy="3404" r="10"/><text class="lb" x="1694" y="3411.5" textLength="156" lengthAdjust="spacingAndGlyphs">EU256092.1</text></g>
<g id="l-EU256078"><circle class="cr" cx="1669" cy="3426" r="10"/><text class="lb" x="1694" y="3433.5" textLength="156" lengthAdjust="spacingAndGlyphs">EU256078.1</text></g>
</g>
</svg>
